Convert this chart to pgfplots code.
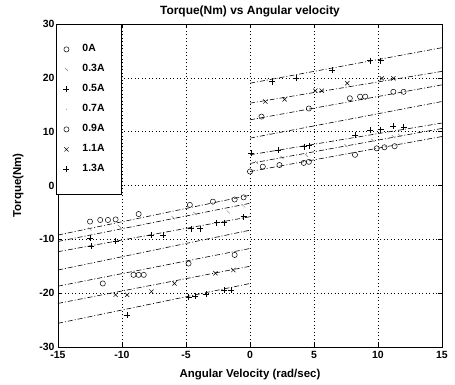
\documentclass[border=0pt]{standalone}
\usepackage{fontspec}
\setmainfont{Liberation Sans}
\usepackage{pgfplots}
\pgfplotsset{compat=1.18}
\begin{document}
\begin{tikzpicture}
\begin{axis}[
  scale only axis, width=384bp, height=323bp,
  xmin=-15, xmax=15, ymin=-30, ymax=30,
  xtick={-15,-10,...,15}, ytick={-30,-20,...,30},
  grid=major,
  major grid style={black, line width=0.5bp, dash pattern=on 1bp off 2.5bp},
  axis line style={black, line width=0.8bp},
  tick style={black, line width=0.5bp}, tick align=inside, major tick length=4bp,
  /pgf/number format/assume math mode=true,
  ticklabel style={font=\fontsize{10.5}{12}\selectfont\bfseries},
  xticklabel style={yshift=-1bp},
  every axis title shift/.style={yshift=0pt},
  title={Torque(Nm) vs Angular velocity},
  title style={font=\fontsize{12}{14}\selectfont\bfseries, at={(axis description cs:0.5,1.043)}, anchor=center, yshift=-7bp},
  xlabel={Angular Velocity (rad/sec)},
  xlabel style={font=\fontsize{11.5}{14}\selectfont\bfseries, at={(axis description cs:0.5,-0.09)}, anchor=center, yshift=1.5bp},
  ylabel={Torque(Nm)},
  ylabel style={font=\fontsize{11.5}{14}\selectfont\bfseries, at={(axis description cs:-0.104,0.5)}, anchor=center},
  legend style={at={(rel axis cs:-0.005,1)}, anchor=north west, draw=black, line width=0.8bp, fill=white,
    font=\fontsize{10.5}{12}\selectfont\bfseries, inner xsep=1bp, inner ysep=19bp, row sep=8bp,
    nodes={inner sep=1bp, text height=7.2bp, text depth=2.8bp}},
  legend image code/.code={\path[draw=none] (-6bp,0bp) -- (18bp,0bp); \draw[#1, line width=0.5bp] plot coordinates {(3bp,0bp)};},
  legend cell align=left,
  every axis plot/.append style={black, line width=0.5bp},
]
% data points
\addplot[only marks, mark=o, mark size=2.6bp] coordinates {
 (0,2.6)(1.0,3.5)(2.3,3.8)(4.2,4.2)(4.6,4.4)(8.2,5.7)(9.9,6.9)(10.5,7.1)(11.3,7.3)
 (-12.5,-6.7)(-11.7,-6.4)(-11.1,-6.4)(-10.5,-6.3)(-8.7,-5.3)(-4.7,-3.6)(-2.9,-3.0)(-1.2,-2.6)(-0.5,-2.2)};
\addlegendentry{\makebox[37bp][l]{0A}}
\addplot[only marks, mark=|, mark size=2.2bp, mark options={rotate=45, gray}] coordinates {
 (0.5,4.3)(2.5,5.2)(4.4,5.6)(7.5,7.4)(9.6,8.4)(11.2,9.1)(11.7,9.3)
 (-12.5,-8.1)(-10.2,-7.6)(-6.0,-6.0)(-4.3,-5.2)(-1.7,-4.9)(-0.5,-3.8)};
\addlegendentry{\makebox[37bp][l]{0.3A}}
\addplot[only marks, mark=+, mark size=3bp] coordinates {
 (0.1,6.0)(2.2,6.6)(4.2,7.2)(4.6,7.4)(8.2,9.4)(9.4,10.3)(10.2,10.4)(11.2,11.0)(12.0,10.9)
 (-12.5,-9.8)(-12.4,-11.2)(-10.5,-10.3)(-7.7,-9.2)(-6.8,-9.2)(-4.6,-8.0)(-3.9,-8.0)(-2.6,-6.9)(-2.0,-6.9)(-0.5,-5.8)};
\addlegendentry{\makebox[37bp][l]{0.5A}}
\addplot[only marks, mark=*, mark size=0.4bp, mark options={gray!60}] coordinates {
 (1.5,9.6)(3.9,10.6)(4.4,10.9)(7.0,11.9)(9.5,13.0)(11.5,14.0)
 (-12.5,-14.5)(-10,-13.2)(-7.5,-12.0)(-5,-10.8)(-2.5,-9.6)(-0.5,-8.6)};
\addlegendentry{\makebox[37bp][l]{0.7A}}
\addplot[only marks, mark=o, mark size=2.6bp] coordinates {
 (0.9,12.8)(4.6,14.3)(7.8,16.2)(8.6,16.5)(9.0,16.5)(11.2,17.4)(12.0,17.4)
 (-11.5,-18.2)(-9.1,-16.6)(-8.7,-16.6)(-8.3,-16.6)(-4.8,-14.5)(-1.2,-12.9)};
\addlegendentry{\makebox[37bp][l]{0.9A}}
\addplot[only marks, mark=x, mark size=3bp] coordinates {
 (1.2,15.6)(2.7,16.0)(5.1,17.6)(5.6,17.6)(7.6,19.0)(10.3,19.9)(11.2,19.9)
 (-10.5,-20.3)(-9.6,-20.3)(-7.7,-19.7)(-5.9,-18.2)(-2.7,-16.3)(-1.3,-15.7)};
\addlegendentry{\makebox[37bp][l]{1.1A}}
\addplot[only marks, mark=+, mark size=3bp] coordinates {
 (1.7,19.3)(3.6,19.9)(6.4,21.5)(9.4,23.2)(10.2,23.2)
 (-9.6,-24.1)(-4.8,-20.7)(-4.3,-20.6)(-3.4,-20.2)(-2.0,-19.5)(-1.5,-19.5)};
\addlegendentry{\makebox[37bp][l]{1.3A}}
% fitted lines
\pgfplotsset{fitline/.style={forget plot, black, line width=0.6bp, dash pattern=on 5bp off 2bp on 1bp off 2bp}}
\addplot[fitline] coordinates {(0,2.6)(15,9.1)};
\addplot[fitline] coordinates {(0,4.1)(15,10.6)};
\addplot[fitline] coordinates {(0,5.7)(15,11.6)};
\addplot[fitline] coordinates {(0,8.8)(15,15.6)};
\addplot[fitline] coordinates {(0,12.2)(15,18.7)};
\addplot[fitline] coordinates {(0,15.3)(15,21.2)};
\addplot[fitline] coordinates {(0,19.0)(15,25.6)};
\addplot[fitline] coordinates {(-15,-9.2)(0,-1.8)};
\addplot[fitline] coordinates {(-15,-10.4)(0,-3.3)};
\addplot[fitline] coordinates {(-15,-12.3)(0,-5.8)};
\addplot[fitline] coordinates {(-15,-15.7)(0,-8.3)};
\addplot[fitline] coordinates {(-15,-18.7)(0,-11.7)};
\addplot[fitline] coordinates {(-15,-21.9)(0,-15.0)};
\addplot[fitline] coordinates {(-15,-25.6)(0,-18.2)};
\end{axis}
\pgfresetboundingbox
\path ([shift={(-58bp,-38bp)}]current axis.south west) rectangle ([shift={(13bp,24bp)}]current axis.north east);
\end{tikzpicture}
\end{document}
